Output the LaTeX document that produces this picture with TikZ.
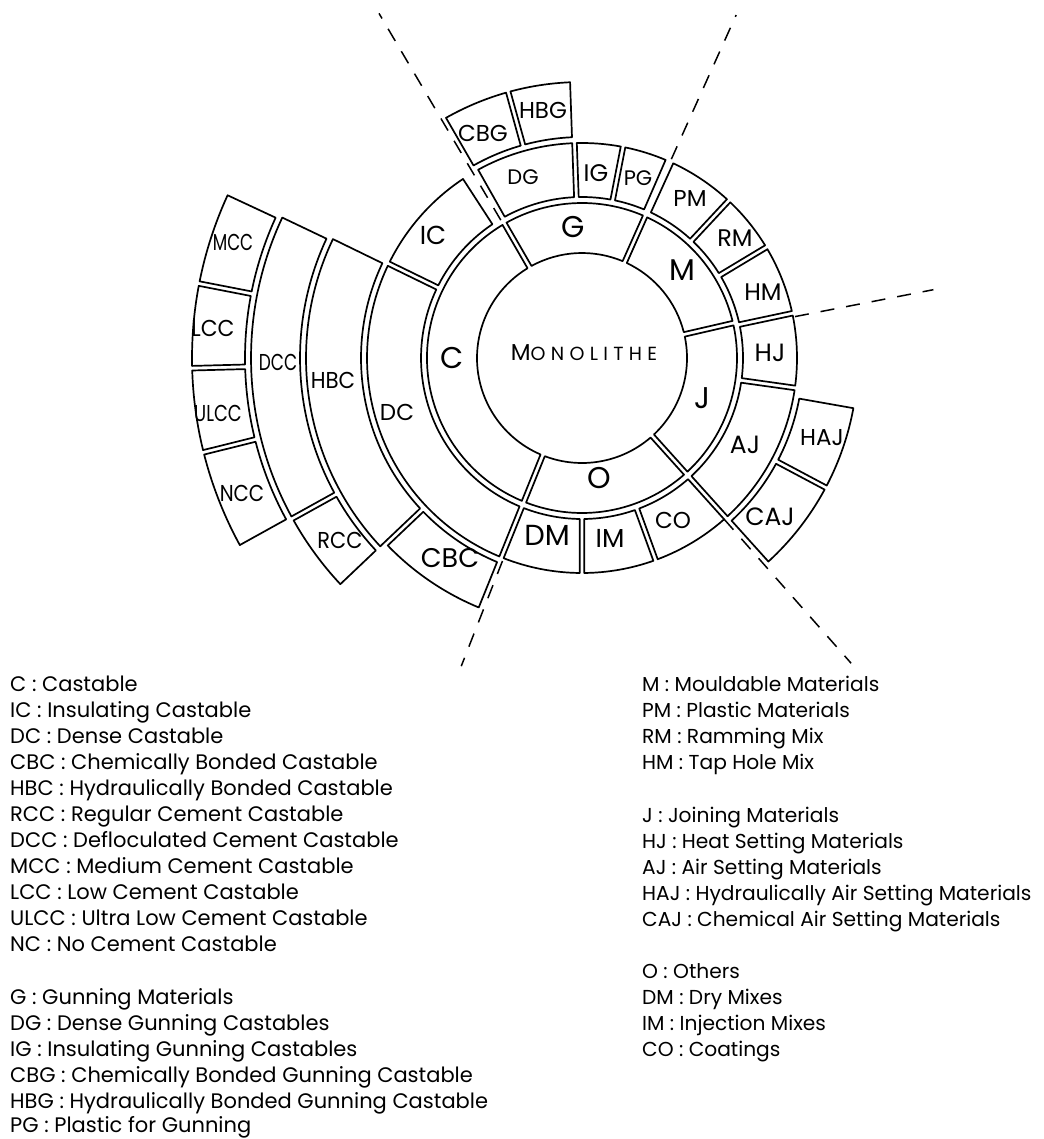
\documentclass[tikz,border=0pt]{standalone}
\usepackage{fontspec}
\usepackage{graphicx}
\setmainfont{Poppins}
\newcommand{\ringpart}[4]{% r1, r2, a1, a2
  \pgfmathsetmacro\gapA{2.3/#1*57.2958}
  \pgfmathsetmacro\gapB{2.3/#2*57.2958}
  \draw[part] ({#3+\gapA}:#1) arc[start angle={#3+\gapA}, end angle={#4-\gapA}, radius=#1pt]
    -- ({#4-\gapB}:#2) arc[start angle={#4-\gapB}, end angle={#3+\gapB}, radius=#2pt] -- cycle;}
\newcommand{\sq}[2]{\scalebox{#1}[1]{#2}}
\newcommand{\fs}[1]{\fontsize{#1}{#1}\selectfont}
\begin{document}
\begin{tikzpicture}[x=1pt,y=1pt,
  part/.style={draw=black, line width=1.7pt, line join=round},
  dashline/.style={line width=1.5pt, dash pattern=on 14pt off 12pt},
  lab/.style={inner sep=0pt, font=\fs{23}},
  biglab/.style={inner sep=0pt, font=\fs{30}},
  leg/.style={anchor=base west, inner sep=0pt, font=\fs{21}},
  legr/.style={anchor=base west, inner sep=0pt, font=\fs{20.2}}]
\useasboundingbox (0,0) rectangle (1043,-1139);
\fill[white] (0,0) rectangle (1043,-1139);
\coordinate (ctr) at (582,-358);
\begin{scope}[shift={(ctr)}]
  % ring 1
  \ringpart{105}{155}{120}{248}
  \ringpart{105}{155}{66}{120}
  \ringpart{105}{155}{13}{66}
  \ringpart{105}{155}{-48}{13}
  \ringpart{105}{155}{-112}{-48}
  % ring 2
  \ringpart{161}{215}{123}{154}
  \ringpart{161}{215}{154}{248}
  \ringpart{161}{215}{92}{119.5}
  \ringpart{161}{215}{79}{92}
  \ringpart{161}{215}{66.5}{79}
  \ringpart{161}{215}{47}{65.5}
  \ringpart{161}{215}{31}{47}
  \ringpart{161}{215}{12}{31}
  \ringpart{161}{215}{-8}{12}
  \ringpart{161}{215}{-48}{-8}
  \ringpart{161}{215}{-70}{-48}
  \ringpart{161}{215}{-90}{-70}
  \ringpart{161}{215}{-112}{-90}
  % ring 3
  \ringpart{221}{276}{105.5}{120}
  \ringpart{221}{276}{92}{105.5}
  \ringpart{221}{276}{154}{223.5}
  \ringpart{221}{270}{223.5}{248}
  \ringpart{221}{276}{-28}{-10}
  \ringpart{221}{276}{-48}{-28}
  % ring 4
  \ringpart{282}{331}{154.5}{209}
  \ringpart{282}{331}{209}{223.5}
  % ring 5
  \ringpart{337}{390}{155}{169}
  \ringpart{337}{390}{169}{181.5}
  \ringpart{337}{390}{181.5}{194}
  \ringpart{337}{390}{194}{209}
  % dashed division lines
  \draw[dashline] (120.5:160) -- (120.5:400);
  \draw[dashline] (65.8:218) -- (65.8:376);
  \draw[dashline] (11:217) -- (11:358);
  \draw[dashline] (-48.6:215) -- (-48.6:407);
  \draw[dashline] (248.6:218) -- (248.6:331);
\end{scope}
% centre
\node[inner sep=0pt] (mono) at (584,-353) {\fs{23}M\fs{19}\addfontfeatures{LetterSpace=28}ONOLITHE};
% ring 1 labels
\node[biglab] (C) at (452,-358) {C};
\node[biglab] (G) at (573,-227) {G};
\node[biglab] (M) at (682,-270) {M};
\node[biglab] (J) at (702,-398) {J};
\node[biglab] (O) at (599,-478) {O};
% ring 2 labels
\node[lab, font=\fs{26}] (IC) at (433,-235) {IC};
\node[lab] (DC) at (397,-412) {DC};
\node[lab, font=\fs{21}] (DG) at (523,-177) {DG};
\node[lab, font=\fs{24}] (IG) at (596,-173) {IG};
\node[lab, font=\fs{21}] (PG) at (638,-178) {PG};
\node[lab] (PM) at (690,-198) {PM};
\node[lab, font=\fs{24}] (RM) at (735,-238) {RM};
\node[lab, font=\fs{24}] (HM) at (763,-292) {HM};
\node[lab, font=\fs{25}] (HJ) at (770,-353) {HJ};
\node[lab, font=\fs{25}] (AJ) at (745,-445) {AJ};
\node[lab] (CO) at (673,-520) {CO};
\node[lab, font=\fs{26}] (IM) at (610,-538) {IM};
\node[lab, font=\fs{29}] (DM) at (547,-535) {DM};
% ring 3 labels
\node[lab] (CBG) at (483,-133) {CBG};
\node[lab] (HBG) at (543,-110) {HBG};
\node[lab] (HBC) at (333,-380) {\sq{0.93}{HBC}};
\node[lab, font=\fs{27}] (CBC) at (450,-558) {CBC};
\node[lab] (HAJ) at (822,-438) {HAJ};
\node[lab, font=\fs{25}] (CAJ) at (770,-517) {CAJ};
% ring 4 labels
\node[lab] (DCC) at (278,-362) {\sq{0.74}{DCC}};
\node[lab] (RCC) at (340,-540) {\sq{0.91}{RCC}};
% ring 5 labels
\node[lab] (MCC) at (233,-242) {\sq{0.73}{MCC}};
\node[lab] (LCC) at (213,-328) {\sq{0.95}{LCC}};
\node[lab] (ULCC) at (218,-413) {\sq{0.78}{ULCC}};
\node[lab] (NCC) at (242,-493) {\sq{0.86}{NCC}};
% legend, left column
\foreach \txt/\yy [count=\i] in {C : Castable/691, IC : Insulating Castable/717,
  DC : Dense Castable/743, CBC : Chemically Bonded Castable/769,
  HBC : Hydraulically Bonded Castable/795, RCC : Regular Cement Castable/821,
  DCC : Defloculated Cement Castable/847, MCC : Medium Cement Castable/873,
  LCC : Low Cement Castable/899, ULCC : Ultra Low Cement Castable/925,
  NC : No Cement Castable/951, G : Gunning Materials/1004,
  DG : Dense Gunning Castables/1030, IG : Insulating Gunning Castables/1056,
  CBG : Chemically Bonded Gunning Castable/1082,
  HBG : Hydraulically Bonded Gunning Castable/1108,
  PG : Plastic for Gunning/1132}
  {\node[leg, name=L\i] at (10,-\yy) {\txt};}
% legend, right column
\foreach \txt/\yy [count=\i] in {M : Mouldable Materials/691, PM : Plastic Materials/717,
  RM : Ramming Mix/743, HM : Tap Hole Mix/769,
  J : Joining Materials/822, HJ : Heat Setting Materials/848,
  AJ : Air Setting Materials/874, HAJ : Hydraulically Air Setting Materials/900,
  CAJ : Chemical Air Setting Materials/926,
  O : Others/978, DM : Dry Mixes/1004, IM : Injection Mixes/1030, CO : Coatings/1056}
  {\node[legr, name=R\i] at (642,-\yy) {\txt};}
\end{tikzpicture}
\end{document}
